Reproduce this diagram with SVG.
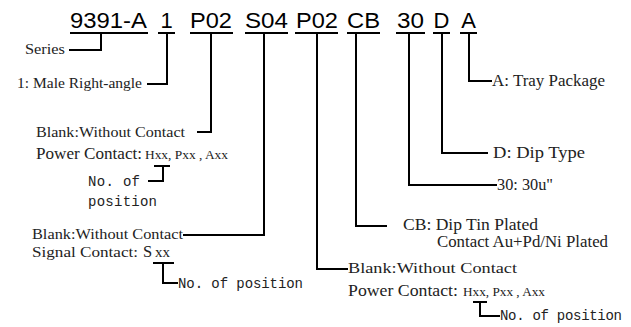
<svg xmlns="http://www.w3.org/2000/svg" width="631" height="327" viewBox="0 0 631 327">
<style>
.code{font-family:"Liberation Sans",Arial,sans-serif;font-size:22px;fill:#000}
.lbl{font-family:"Liberation Serif","Times New Roman",serif;font-size:15.5px;fill:#222}
.big{font-size:16.5px}
.sm{font-size:12.5px}
.mono{font-family:"Liberation Mono","Courier New",monospace;font-size:14px;fill:#222}
.ln{fill:none;stroke:#000;stroke-width:2}
</style>
<rect width="631" height="327" fill="#fff"/>
<g id="codes">
<text class="code" x="70" y="28" textLength="77" lengthAdjust="spacingAndGlyphs">9391-A</text>
<text class="code" x="166.5" y="28" text-anchor="middle">1</text>
<text class="code" x="190" y="28" textLength="42" lengthAdjust="spacingAndGlyphs">P02</text>
<text class="code" x="245" y="28" textLength="43" lengthAdjust="spacingAndGlyphs">S04</text>
<text class="code" x="296" y="28" textLength="42" lengthAdjust="spacingAndGlyphs">P02</text>
<text class="code" x="347" y="28" textLength="33" lengthAdjust="spacingAndGlyphs">CB</text>
<text class="code" x="397" y="28" textLength="27" lengthAdjust="spacingAndGlyphs">30</text>
<text class="code" x="441.5" y="28" text-anchor="middle">D</text>
<text class="code" x="468.5" y="28" text-anchor="middle">A</text>
</g>
<g id="underlines">
<path class="ln" d="M70,33H148M158,33H175M190,33H233M245,33H288M295,33H338M347,33H380M396,33H425M433,33H450M460,33H477"/>
</g>
<g id="connectors">
<path class="ln" d="M69,50H101V33"/>
<path class="ln" d="M147,84H167V33"/>
<path class="ln" d="M197,132H211V33"/>
<path class="ln" d="M183,235H264V33"/>
<path class="ln" d="M348,269H317V33"/>
<path class="ln" d="M387,226H356V33"/>
<path class="ln" d="M497,185H409V33"/>
<path class="ln" d="M488,153H442V33"/>
<path class="ln" d="M492,81H469V33"/>
<path class="ln" d="M154,166H170M163,166V181H148"/>
<path class="ln" d="M153,263H174M163,263V283H178"/>
<path class="ln" d="M473,302H487M480,302V316H500"/>
</g>
<g id="series">
<text class="lbl" x="25" y="54" textLength="40" lengthAdjust="spacingAndGlyphs">Series</text>
</g>
<g id="type">
<text class="lbl" x="17" y="88" textLength="125" lengthAdjust="spacingAndGlyphs">1: Male Right-angle</text>
</g>
<g id="power1">
<text class="lbl" x="36" y="137" textLength="149" lengthAdjust="spacingAndGlyphs">Blank:Without Contact</text>
<text class="lbl big" x="36" y="159" textLength="106" lengthAdjust="spacingAndGlyphs">Power Contact:</text>
<text class="lbl sm" x="145" y="159" textLength="83" lengthAdjust="spacingAndGlyphs">Hxx, Pxx , Axx</text>
<text class="mono" x="88" y="186" textLength="52" lengthAdjust="spacing">No. of</text>
<text class="mono" x="88" y="206" textLength="69" lengthAdjust="spacing">position</text>
</g>
<g id="signal">
<text class="lbl" x="32" y="239" textLength="151" lengthAdjust="spacingAndGlyphs">Blank:Without Contact</text>
<text class="lbl" x="32" y="257" textLength="106" lengthAdjust="spacingAndGlyphs">Signal Contact:</text>
<text class="lbl big" x="143" y="257">S</text>
<text class="lbl" x="155" y="257" textLength="15" lengthAdjust="spacingAndGlyphs">xx</text>
<text class="mono" x="178" y="288" textLength="125" lengthAdjust="spacing">No. of position</text>
</g>
<g id="power2">
<text class="lbl" x="348" y="273" textLength="169" lengthAdjust="spacingAndGlyphs">Blank:Without Contact</text>
<text class="lbl big" x="348" y="296" textLength="110" lengthAdjust="spacingAndGlyphs">Power Contact:</text>
<text class="lbl sm" x="463" y="296" textLength="82" lengthAdjust="spacingAndGlyphs">Hxx, Pxx , Axx</text>
<text class="mono" x="500" y="320" textLength="122" lengthAdjust="spacing">No. of position</text>
</g>
<g id="plating">
<text class="lbl big" x="403" y="230" textLength="135" lengthAdjust="spacingAndGlyphs">CB: Dip Tin Plated</text>
<text class="lbl big" x="437" y="247" textLength="171" lengthAdjust="spacingAndGlyphs">Contact Au+Pd/Ni Plated</text>
</g>
<g id="thickness">
<text class="lbl big" x="497" y="190" textLength="56" lengthAdjust="spacingAndGlyphs">30: 30u"</text>
</g>
<g id="dip">
<text class="lbl big" x="493" y="158" textLength="92" lengthAdjust="spacingAndGlyphs">D: Dip Type</text>
</g>
<g id="package">
<text class="lbl big" x="492" y="86" textLength="113" lengthAdjust="spacingAndGlyphs">A: Tray Package</text>
</g>
</svg>
